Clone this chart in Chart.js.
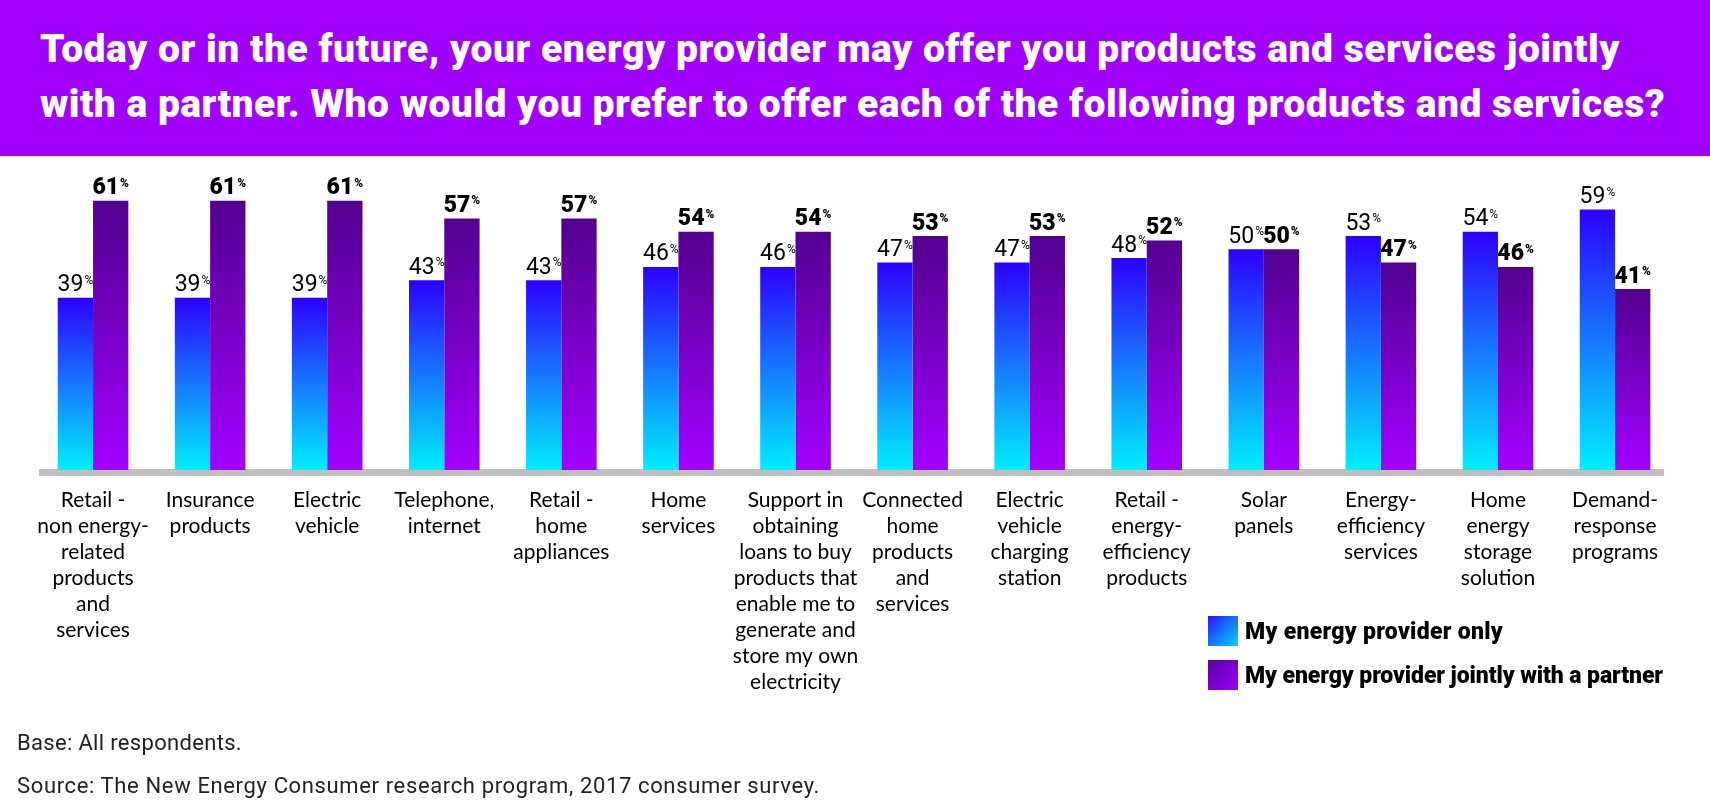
<!DOCTYPE html>
<html>
<head>
<meta charset="utf-8">
<script src="https://cdn.jsdelivr.net/npm/chart.js@4.4.1/dist/chart.umd.min.js"></script>
<style>
  html, body { margin: 0; padding: 0; width: 1710px; height: 812px; overflow: hidden; background: #fff; }
  #banner { position: absolute; left: 0; top: 0; width: 1710px; height: 156px; background: #A100FF; }
  .tl { position: absolute; left: 40px; font-family: Roboto, sans-serif; font-weight: 900; font-size: 39px; line-height: 39px; color: #fff; white-space: nowrap; }
  #wrap { position: absolute; left: 0; top: 0; width: 1710px; height: 812px; }
  .lg { position: absolute; left: 1245px; font-family: Roboto, sans-serif; font-weight: 900; font-size: 23px; line-height: 23px; color: #000; white-space: nowrap; }
  .sw { position: absolute; left: 1208px; width: 30px; height: 30px; }
  .ft { position: absolute; left: 17px; font-family: Roboto, sans-serif; font-weight: 400; font-size: 22px; line-height: 22px; color: #222; white-space: nowrap; }
</style>
</head>
<body>
<div id="banner">
  <span class="tl" id="t1" style="top:30px">Today or in the future, your energy provider may offer you products and services jointly</span>
  <span class="tl" id="t2" style="top:85px">with a partner. Who would you prefer to offer each of the following products and services?</span>
</div>
<div id="wrap"><canvas id="c" width="1710" height="812"></canvas></div>
<div id="legend"></div>
<span class="ft" id="f1" style="top:732px">Base: All respondents.</span>
<span class="ft" id="f2" style="top:775px">Source: The New Energy Consumer research program, 2017 consumer survey.</span>
<script>
// ---- data ----
const categories = [
  ["Retail -", "non energy-", "related", "products", "and", "services"],
  ["Insurance", "products"],
  ["Electric", "vehicle"],
  ["Telephone,", "internet"],
  ["Retail -", "home", "appliances"],
  ["Home", "services"],
  ["Support in", "obtaining", "loans to buy", "products that", "enable me to", "generate and", "store my own", "electricity"],
  ["Connected", "home", "products", "and", "services"],
  ["Electric", "vehicle", "charging", "station"],
  ["Retail -", "energy-", "efficiency", "products"],
  ["Solar", "panels"],
  ["Energy-", "efficiency", "services"],
  ["Home", "energy", "storage", "solution"],
  ["Demand-", "response", "programs"]
];
const seriesNames = ["My energy provider only", "My energy provider jointly with a partner"];
const providerOnly = [39, 39, 39, 43, 43, 46, 46, 47, 47, 48, 50, 53, 54, 59];
const jointlyWithPartner = [61, 61, 61, 57, 57, 54, 54, 53, 53, 52, 50, 47, 46, 41];

// ---- styles ----
const gradStops = [
  ["#2C00FF", "#00EEFF"],
  ["#52008F", "#A100FF"]
];
const swatchCss = [
  "linear-gradient(135deg, #2A10FF, #00D8FF)",
  "linear-gradient(135deg, #5600A6, #9C00FA)"
];
const labelWeights = ["400", "900"];

function barGradient(idx) {
  return function(ctx) {
    const chart = ctx.chart;
    if (!chart.chartArea || ctx.type !== 'data') return gradStops[idx][0];
    const ys = chart.scales.y;
    const top = ys.getPixelForValue(ctx.raw);
    const bottom = ys.getPixelForValue(0);
    const g = chart.ctx.createLinearGradient(0, top, 0, bottom);
    g.addColorStop(0, gradStops[idx][0]);
    g.addColorStop(1, gradStops[idx][1]);
    return g;
  };
}

const axisBar = {
  id: 'axisBar',
  beforeDatasetsDraw(chart) {
    const { ctx, chartArea } = chart;
    const y0 = chart.scales.y.getPixelForValue(0);
    ctx.save();
    ctx.fillStyle = '#BFBFBF';
    ctx.fillRect(chartArea.left + 4.5, y0 - 1, chartArea.right - chartArea.left - 14, 7);
    ctx.restore();
  }
};

const valueLabels = {
  id: 'valueLabels',
  afterDatasetsDraw(chart) {
    const ctx = chart.ctx;
    chart.data.datasets.forEach((ds, di) => {
      const meta = chart.getDatasetMeta(di);
      meta.data.forEach((el, i) => {
        const num = String(ds.data[i]);
        const w = labelWeights[di];
        ctx.save();
        ctx.fillStyle = '#000';
        ctx.textBaseline = 'alphabetic';
        ctx.font = w + ' 23px Roboto';
        const w1 = ctx.measureText(num).width;
        ctx.font = w + ' 12px Roboto';
        const w2 = ctx.measureText('%').width;
        const total = w1 + 1 + w2;
        const x0 = el.x - total / 2;
        const base = el.y - 6.5;
        ctx.font = w + ' 23px Roboto';
        ctx.fillText(num, x0, base);
        ctx.font = w + ' 12px Roboto';
        ctx.fillText('%', x0 + w1 + 1, base - 7.5);
        ctx.restore();
      });
    });
  }
};

const chart = new Chart(document.getElementById('c'), {
  type: 'bar',
  data: {
    labels: categories,
    datasets: [
      { label: seriesNames[0], data: providerOnly, backgroundColor: barGradient(0), borderWidth: 0 },
      { label: seriesNames[1], data: jointlyWithPartner, backgroundColor: barGradient(1), borderWidth: 0 }
    ]
  },
  options: {
    responsive: false,
    animation: false,
    events: [],
    layout: { padding: { left: 34.5, right: 36.4, top: 161, bottom: 92 } },
    datasets: { bar: { categoryPercentage: 0.603, barPercentage: 1.0 } },
    plugins: { legend: { display: false }, tooltip: { enabled: false }, title: { display: false } },
    scales: {
      y: { display: false, min: 0, max: 70 },
      x: {
        grid: { display: false, drawTicks: false },
        border: { display: false },
        afterFit(scale) { scale.height = 250; },
        ticks: {
          autoSkip: false, maxRotation: 0, minRotation: 0, padding: 17,
          color: '#000',
          font: { family: 'Lato', size: 21, lineHeight: '26px' }
        }
      }
    }
  },
  plugins: [axisBar, valueLabels]
});

// legend from datasets
const lg = document.getElementById('legend');
const rowTops = [616, 660];
chart.data.datasets.forEach((ds, i) => {
  const sw = document.createElement('div');
  sw.className = 'sw';
  sw.style.top = rowTops[i] + 'px';
  sw.style.background = swatchCss[i];
  lg.appendChild(sw);
  const t = document.createElement('span');
  t.className = 'lg';
  t.id = 'lg' + i;
  t.style.top = (rowTops[i] + 3.5) + 'px';
  t.textContent = ds.label;
  lg.appendChild(t);
});

function fit(id, target) {
  const el = document.getElementById(id);
  el.style.letterSpacing = '0px';
  const w = el.getBoundingClientRect().width;
  const n = el.textContent.length;
  el.style.letterSpacing = ((target - w) / n) + 'px';
}
fit('t1', 1580);
fit('t2', 1625);
fit('lg0', 258);
fit('lg1', 418);
fit('f1', 225);
fit('f2', 803);
</script>
</body>
</html>
